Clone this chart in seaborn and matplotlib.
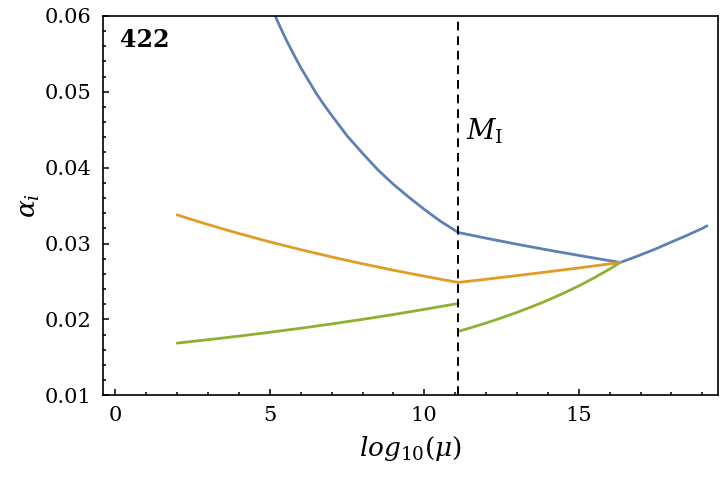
import numpy as np
import pandas as pd
import seaborn as sns
import matplotlib.pyplot as plt
from matplotlib.ticker import MultipleLocator, FormatStrFormatter

# values (log10(mu), alpha_i), one list per piece of curve
m_int = 11.1

blue_x1 = [4.0, 4.5, 5.0, 5.25, 5.5, 5.75, 6.0, 6.25, 6.5, 6.75, 7.0, 7.5, 8.0, 8.5, 9.0, 9.5, 10.0, 10.5, 11.1]
blue_a1 = [0.0730, 0.0668, 0.0616, 0.0593, 0.0571, 0.0551, 0.0532, 0.0515, 0.0498, 0.0483, 0.0469,
           0.0442, 0.0419, 0.0397, 0.0378, 0.0361, 0.0345, 0.0330, 0.03145]
blue_x2 = [11.1, 12.0, 13.0, 14.0, 15.0, 16.34]
blue_a2 = [0.03145, 0.0307, 0.0299, 0.02915, 0.02843, 0.0275]
blue_x3 = [16.34, 16.75, 17.0, 17.5, 18.0, 18.5, 19.0, 19.15]
blue_a3 = [0.0275, 0.02811, 0.0285, 0.02931, 0.0302, 0.03107, 0.0320, 0.03233]

orange_x1 = [2.0, 2.5, 3.0, 3.5, 4.0, 5.0, 6.0, 7.0, 8.0, 9.0, 10.0, 11.1]
orange_a1 = [0.03378, 0.03313, 0.0325, 0.0319, 0.03132, 0.03021, 0.02919, 0.02823, 0.02733, 0.02648,
             0.02569, 0.02487]
orange_x2 = [11.1, 12.0, 13.0, 14.0, 15.0, 16.34]
orange_a2 = [0.02487, 0.02529, 0.02577, 0.02627, 0.02678, 0.0275]

green_x1 = [2.0, 3.0, 4.0, 5.0, 6.0, 7.0, 8.0, 9.0, 10.0, 11.1]
green_a1 = [0.01687, 0.01732, 0.01779, 0.0183, 0.01883, 0.0194, 0.0200, 0.02064, 0.02132, 0.0221]
green_x2 = [11.1, 11.5, 12.0, 12.5, 13.0, 13.5, 14.0, 14.5, 15.0, 15.5, 16.0, 16.34]
green_a2 = [0.01842, 0.01889, 0.01952, 0.0202, 0.02092, 0.0217, 0.02253, 0.02344, 0.02441, 0.02548,
            0.02664, 0.0275]

pieces = [
    ("blue", "b1", blue_x1, blue_a1), ("blue", "b2", blue_x2, blue_a2), ("blue", "b3", blue_x3, blue_a3),
    ("orange", "o1", orange_x1, orange_a1), ("orange", "o2", orange_x2, orange_a2),
    ("green", "g1", green_x1, green_a1), ("green", "g2", green_x2, green_a2),
]
frames = []
for name, seg, xs, ys in pieces:
    frames.append(pd.DataFrame({"x": xs, "alpha": ys, "coupling": name, "segment": seg}))
df = pd.concat(frames, ignore_index=True)

colors = {"blue": "#5E81B5", "orange": "#E19C24", "green": "#8FB032"}

sns.set_style("ticks")
plt.rcParams["font.family"] = ["DejaVu Serif"]
plt.rcParams["mathtext.fontset"] = "dejavuserif"
plt.rcParams["text.color"] = "black"
plt.rcParams["axes.labelcolor"] = "black"
plt.rcParams["xtick.color"] = "black"
plt.rcParams["ytick.color"] = "black"

fig = plt.figure(figsize=(7.2, 4.82), dpi=100)
ax = fig.add_axes([0.143, 0.18, 0.854, 0.787])

sns.lineplot(data=df, x="x", y="alpha", hue="coupling", units="segment", estimator=None,
             sort=False, palette=colors, linewidth=2, legend=False, ax=ax)
ax.axvline(m_int, color="black", lw=1.4, ls=(0, (4.5, 3)))

ax.set_xlim(-0.4, 19.5)
ax.set_ylim(0.01, 0.06)
ax.xaxis.set_major_locator(MultipleLocator(5))
ax.xaxis.set_minor_locator(MultipleLocator(1))
ax.yaxis.set_major_locator(MultipleLocator(0.01))
ax.yaxis.set_minor_locator(MultipleLocator(0.002))
ax.yaxis.set_major_formatter(FormatStrFormatter("%.2f"))
ax.tick_params(which="both", direction="in", top=False, right=False, labelsize=15, width=1.1,
               colors="black", labelcolor="black")
ax.tick_params(which="major", length=4, pad=8)
ax.tick_params(which="minor", length=2.2)
for s in ax.spines.values():
    s.set_linewidth(1.2)
    s.set_color("black")

ax.set_xlabel(r"$\mathit{log}_{\mathit{10}}(\mu)$", fontsize=19, labelpad=6, color="black")
ax.set_ylabel(r"$\alpha_i$", fontsize=19, labelpad=2, color="black")
ax.text(0.15, 0.0568, "422", fontsize=17, fontweight="bold", va="center", ha="left", color="black")
ax.text(11.35, 0.0448, r"$M_{\mathrm{I}}$", fontsize=20, va="center", ha="left", color="black")

fig.savefig("out.png", dpi=100)
